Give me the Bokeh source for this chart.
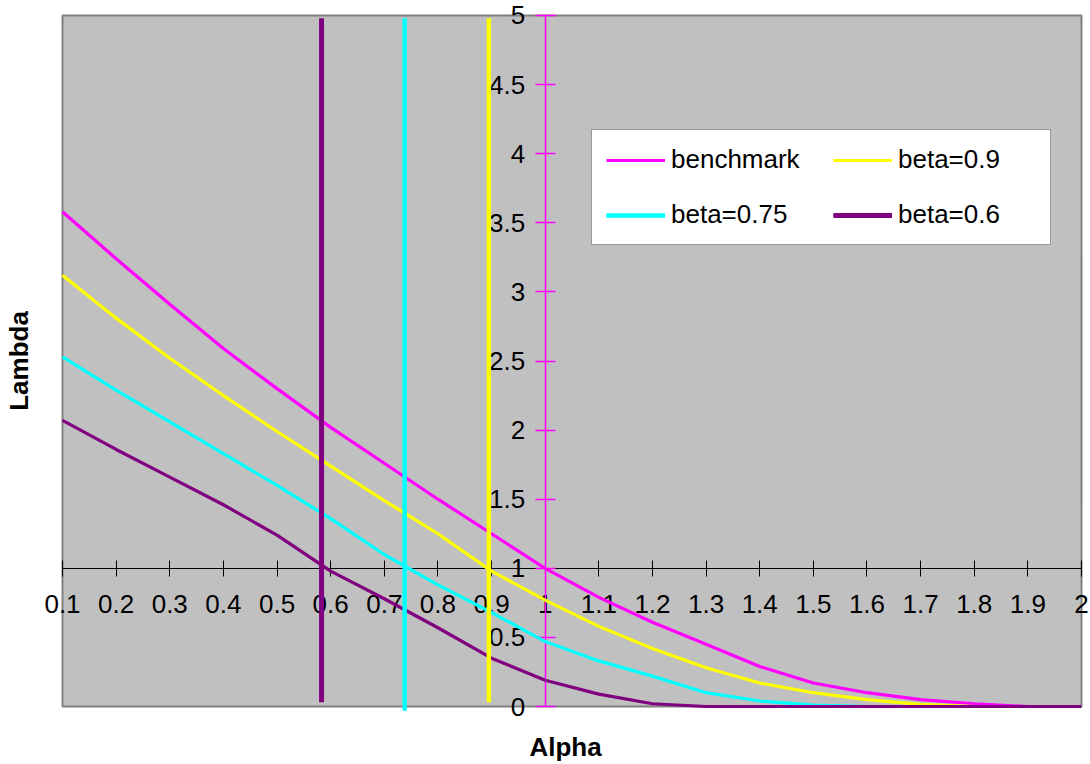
from bokeh.plotting import figure
from bokeh.models import Range1d, FixedTicker, Legend, LegendItem, LinearAxis
from bokeh.embed import file_html
from bokeh.resources import INLINE

# ---- data ----
alpha = [0.1, 0.2, 0.3, 0.4, 0.5, 0.6, 0.7, 0.8, 0.9, 1.0,
         1.1, 1.2, 1.3, 1.4, 1.5, 1.6, 1.7, 1.8, 1.9, 2.0]
benchmark = [3.58, 3.24, 2.91, 2.59, 2.30, 2.02, 1.76, 1.50, 1.25, 1.00,
             0.79, 0.61, 0.45, 0.29, 0.17, 0.10, 0.05, 0.02, 0.00, 0.00]
beta_09 = [3.12, 2.81, 2.52, 2.25, 1.99, 1.74, 1.49, 1.25, 0.98, 0.77,
           0.58, 0.42, 0.28, 0.17, 0.10, 0.05, 0.015, 0.0, 0.0, 0.0]
beta_075 = [2.53, 2.29, 2.06, 1.83, 1.60, 1.36, 1.10, 0.88, 0.68, 0.47,
            0.33, 0.22, 0.10, 0.04, 0.01, 0.0, 0.0, 0.0, 0.0, 0.0]
beta_06 = [2.07, 1.86, 1.66, 1.46, 1.24, 0.98, 0.78, 0.57, 0.35, 0.19,
           0.09, 0.02, 0.0, 0.0, 0.0, 0.0, 0.0, 0.0, 0.0, 0.0]

# alpha at which lambda = 1 for each beta (vertical marker lines)
cut_beta_09 = 0.895
cut_beta_075 = 0.738
cut_beta_06 = 0.583
vline_lambda = [0.03, 4.98]
vline_lambda_cyan = [-0.03, 4.98]

x_ticks = [0.1, 0.2, 0.3, 0.4, 0.5, 0.6, 0.7, 0.8, 0.9, 1.0,
           1.1, 1.2, 1.3, 1.4, 1.5, 1.6, 1.7, 1.8, 1.9, 2.0]
x_tick_labels = ["0.1", "0.2", "0.3", "0.4", "0.5", "0.6", "0.7", "0.8", "0.9", "1",
                 "1.1", "1.2", "1.3", "1.4", "1.5", "1.6", "1.7", "1.8", "1.9", "2"]
y_ticks = [0, 0.5, 1, 1.5, 2, 2.5, 3, 3.5, 4, 4.5, 5]
y_tick_labels = ["0", "0.5", "1", "1.5", "2", "2.5", "3", "3.5", "4", "4.5", "5"]

# plot-area extent (data units) and axis crossing points
X_MIN, X_MAX = 0.1, 2.0
Y_MIN, Y_MAX = 0.0, 5.0
X_CROSS, Y_CROSS = 1.0, 1.0

FONT = "Liberation Sans"
FS = "26px"
MAGENTA = "#FF00FF"
YELLOW = "#FFFF00"
CYAN = "#00FFFF"
PURPLE = "#800080"

# layout (pixels): grey plot area spans 1019 x 692 px; the Bokeh frame is a bit
# larger so that tick labels on the area's edges are not clipped
W, H = 1090, 764
AREA_W, AREA_H = 1019, 692
PAD_L, PAD_R, PAD_T, PAD_B = 22, 9, 15, 15   # frame beyond grey area
BORDER_L, BORDER_B = 40, 42
px_x = AREA_W / (X_MAX - X_MIN)
px_y = AREA_H / (Y_MAX - Y_MIN)

p = figure(width=W, height=H,
           x_range=Range1d(X_MIN - PAD_L / px_x, X_MAX + PAD_R / px_x),
           y_range=Range1d(Y_MIN - PAD_B / px_y, Y_MAX + PAD_T / px_y),
           output_backend="svg", toolbar_location=None,
           min_border_left=BORDER_L, min_border_right=0, min_border_top=0,
           min_border_bottom=BORDER_B)
p.title.visible = False
p.background_fill_color = "white"
p.border_fill_color = "white"
p.outline_line_color = None
p.grid.visible = False

# grey plot area with its frame
p.quad(left=[X_MIN], right=[X_MAX], bottom=[Y_MIN], top=[Y_MAX],
       fill_color="#C0C0C0", line_color="#808080", line_width=2, level="underlay")

# x axis crossing at lambda = 1
xa = p.xaxis[0]
xa.fixed_location = Y_CROSS
xa.bounds = (X_MIN, X_MAX)
xa.ticker = FixedTicker(ticks=x_ticks)
xa.major_label_overrides = dict(zip(x_ticks, x_tick_labels))
xa.minor_tick_line_color = None
xa.major_tick_in = 8
xa.major_tick_out = 8
xa.axis_line_color = "black"
xa.major_tick_line_color = "black"
xa.major_label_text_font = FONT
xa.major_label_text_font_size = FS
xa.major_label_text_color = "black"
xa.major_label_standoff = 19

# y axis crossing at alpha = 1
ya = p.yaxis[0]
ya.fixed_location = X_CROSS
ya.bounds = (Y_MIN, Y_MAX)
ya.ticker = FixedTicker(ticks=y_ticks)
ya.major_label_overrides = dict(zip(y_ticks, y_tick_labels))
ya.minor_tick_line_color = None
ya.major_tick_in = 10
ya.major_tick_out = 10
ya.axis_line_color = MAGENTA
ya.axis_line_width = 1.5
ya.major_tick_line_color = MAGENTA
ya.major_tick_line_width = 1.5
ya.major_label_text_font = FONT
ya.major_label_text_font_size = FS
ya.major_label_text_color = "black"
ya.major_label_standoff = 10


def title_axis(label, standoff):
    return LinearAxis(ticker=FixedTicker(ticks=[]), axis_label=label,
                      axis_line_color=None, major_tick_line_color=None,
                      minor_tick_line_color=None, major_tick_in=0, major_tick_out=0,
                      major_label_standoff=0, axis_label_standoff=standoff,
                      axis_label_text_font=FONT, axis_label_text_font_size=FS,
                      axis_label_text_font_style="bold", axis_label_text_color="black")


p.add_layout(title_axis("Alpha", 10), "below")
p.add_layout(title_axis("Lambda", 7), "left")

# curves (drawn above the crossing axes)
r_b = p.line(alpha, benchmark, line_color=MAGENTA, line_width=3.2, level="overlay")
r_9 = p.line(alpha, beta_09, line_color=YELLOW, line_width=3.2, level="overlay")
r_75 = p.line(alpha, beta_075, line_color=CYAN, line_width=3.2, level="overlay")
r_6 = p.line(alpha, beta_06, line_color=PURPLE, line_width=3.2, level="overlay")

# vertical marker lines
v_6 = p.line([cut_beta_06, cut_beta_06], vline_lambda, line_color=PURPLE, line_width=5, level="overlay")
v_75 = p.line([cut_beta_075, cut_beta_075], vline_lambda_cyan, line_color=CYAN, line_width=4.5, level="overlay")
v_9 = p.line([cut_beta_09, cut_beta_09], vline_lambda, line_color=YELLOW, line_width=4.5, level="overlay")

# column-major fill: col 1 = benchmark, beta=0.75 ; col 2 = beta=0.9, beta=0.6
legend = Legend(items=[
    LegendItem(label="benchmark", renderers=[r_b]),
    LegendItem(label="beta=0.75", renderers=[r_75, v_75]),
    LegendItem(label="beta=0.9", renderers=[r_9]),
    LegendItem(label="beta=0.6", renderers=[r_6, v_6]),
], ncols=2, location=(551, 476))
legend.label_text_font = FONT
legend.label_text_font_size = FS
legend.label_text_color = "black"
legend.glyph_width = 59
legend.glyph_height = 20
legend.label_standoff = 6
legend.label_width = 138
legend.spacing = 24
legend.padding = 14
legend.margin = 0
legend.border_line_color = "#333333"
legend.border_line_width = 1.5
legend.background_fill_color = "white"
legend.background_fill_alpha = 1.0
p.add_layout(legend, "center")

open("out.html", "w").write(file_html(p, INLINE))
